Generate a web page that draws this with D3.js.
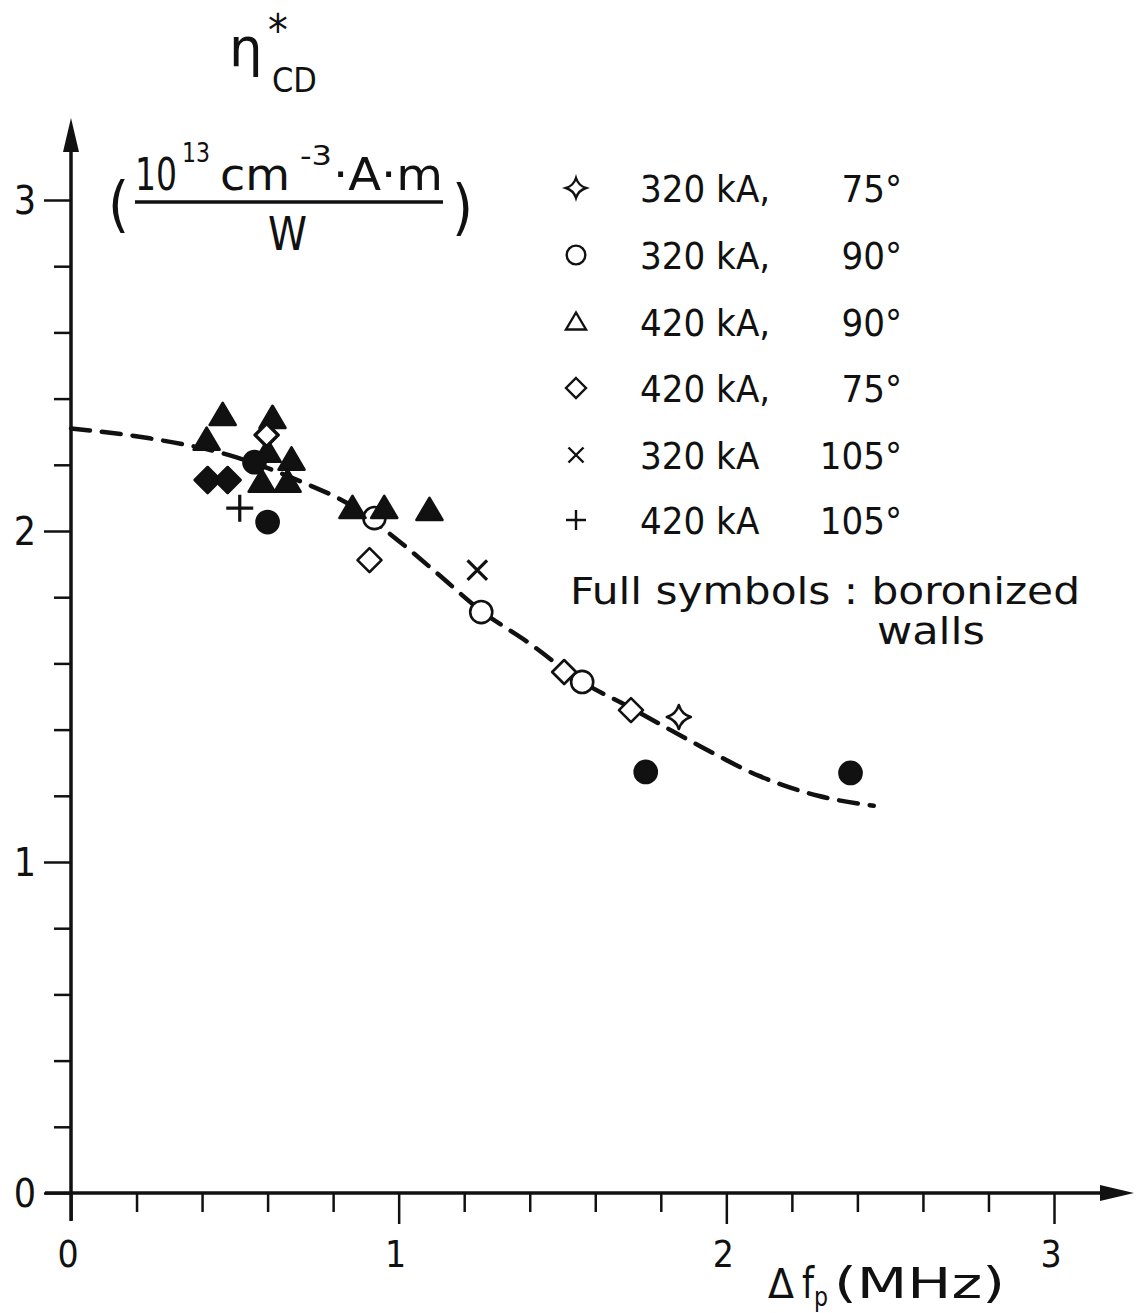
<!DOCTYPE html>
<html>
<head>
<meta charset="utf-8">
<script src="https://cdn.jsdelivr.net/npm/d3@7"></script>
<style>
  body { margin: 0; background: #fff; }
  svg { display: block; }
  text { font-family: "DejaVu Sans Condensed", "DejaVu Sans", sans-serif; fill: #111; }
</style>
</head>
<body>
<svg id="chart"></svg>
<script>
// values (x: delta f_p in MHz, y: eta*_CD)
const fitX = [0, 0.24, 0.48, 0.70, 0.85, 1.00, 1.12, 1.25, 1.40, 1.55, 1.70, 1.92, 2.10, 2.28, 2.45];
const fitY = [2.31, 2.28, 2.23, 2.15, 2.08, 1.97, 1.87, 1.76, 1.66, 1.55, 1.47, 1.35, 1.26, 1.20, 1.17];

const triFull = [[0.463, 2.35], [0.414, 2.275], [0.615, 2.341], [0.600, 2.239], [0.673, 2.215],
                 [0.582, 2.148], [0.661, 2.148], [0.859, 2.069], [0.956, 2.069], [1.094, 2.063]];
const diamondFull = [[0.417, 2.154], [0.478, 2.154]];
const circleFull = [[0.560, 2.208], [0.600, 2.027], [1.754, 1.272], [2.379, 1.269]];
const diamondOpen = [[0.597, 2.290], [0.911, 1.912], [1.505, 1.574], [1.709, 1.459]];
const circleOpen = [[0.926, 2.039], [1.252, 1.755], [1.560, 1.544]];
const crossPts = [[1.240, 1.882]];
const plusPts = [[0.515, 2.069]];
const starPts = [[1.855, 1.438]];

const legendShape = ["star", "circle", "triangle", "diamond", "times", "plus"];
const legendCurrent = ["320 kA,", "320 kA,", "420 kA,", "420 kA,", "320 kA", "420 kA"];
const legendAngle = ["75°", "90°", "90°", "75°", "105°", "105°"];

const xTicks = d3.range(0, 3.01, 0.2).map(d => +d.toFixed(1));
const yTicks = d3.range(0, 3.01, 0.2).map(d => +d.toFixed(1));
const labelTicks = [0, 1, 2, 3];

const W = 1138, H = 1313;
const svg = d3.select("#chart").attr("width", W).attr("height", H);

const x = d3.scaleLinear().domain([0, 3]).range([71, 1054]);
const y = d3.scaleLinear().domain([0, 3]).range([1193, 200]);

// shape paths centred on 0,0
function shapePath(kind, s) {
  const p = d3.path();
  if (kind === "triangle") {
    p.moveTo(0, -s * 0.95); p.lineTo(s * 1.0, s * 0.75); p.lineTo(-s * 1.0, s * 0.75); p.closePath();
  } else if (kind === "circle") {
    p.arc(0, 0, s * 0.85, 0, 2 * Math.PI);
  } else if (kind === "diamond") {
    p.moveTo(0, -s); p.lineTo(s, 0); p.lineTo(0, s); p.lineTo(-s, 0); p.closePath();
  } else if (kind === "times") {
    const a = s * 0.75;
    p.moveTo(-a, -a); p.lineTo(a, a); p.moveTo(a, -a); p.lineTo(-a, a);
  } else if (kind === "plus") {
    p.moveTo(-s, 0); p.lineTo(s, 0); p.moveTo(0, -s); p.lineTo(0, s);
  } else if (kind === "star") {
    // four pointed star with curved inner corners
    const a = s, b = s * 0.24;
    p.moveTo(0, -a);
    p.quadraticCurveTo(b, -b, a, 0);
    p.quadraticCurveTo(b, b, 0, a);
    p.quadraticCurveTo(-b, b, -a, 0);
    p.quadraticCurveTo(-b, -b, 0, -a);
    p.closePath();
  }
  return p.toString();
}

function drawPoints(data, kind, filled, s) {
  svg.append("g").selectAll("path")
    .data(data)
    .enter().append("path")
    .attr("transform", d => `translate(${x(d[0])},${y(d[1])})`)
    .attr("d", shapePath(kind, s))
    .attr("fill", filled ? "#111" : "#fff")
    .attr("stroke", "#111")
    .attr("stroke-width", kind === "times" || kind === "plus" ? 3.2 : 2.6)
    .attr("stroke-linejoin", "round");
}

// axes
const xAxis = svg.append("g").attr("transform", `translate(0,${y(0)})`)
  .call(d3.axisBottom(x).tickValues(xTicks).tickFormat("").tickSizeOuter(0));
xAxis.select(".domain").remove();
xAxis.selectAll(".tick line")
  .attr("stroke", "#111").attr("stroke-width", 2.5)
  .attr("y2", d => Number.isInteger(d) ? (d === 0 ? 27 : 31) : 19);

const yAxis = svg.append("g").attr("transform", `translate(${x(0)},0)`)
  .call(d3.axisLeft(y).tickValues(yTicks).tickFormat("").tickSizeOuter(0));
yAxis.select(".domain").remove();
yAxis.selectAll(".tick line")
  .attr("stroke", "#111").attr("stroke-width", 2.5)
  .attr("x2", d => Number.isInteger(d) ? -27 : -17);

// main axis lines with arrows
svg.append("line").attr("x1", 45).attr("x2", 1110).attr("y1", y(0)).attr("y2", y(0))
  .attr("stroke", "#111").attr("stroke-width", 3.5);
svg.append("line").attr("x1", x(0)).attr("x2", x(0)).attr("y1", 1221).attr("y2", 140)
  .attr("stroke", "#111").attr("stroke-width", 3.5);
svg.append("path").attr("d", `M1134,${y(0)} L1100,${y(0) - 8} L1100,${y(0) + 8} Z`).attr("fill", "#111");
svg.append("path").attr("d", `M${x(0)},118 L${x(0) - 8},152 L${x(0) + 8},152 Z`).attr("fill", "#111");

// tick labels
labelTicks.forEach(v => {
  svg.append("text").attr("x", x(v) - 3).attr("y", 1267)
    .attr("text-anchor", "middle").style("font-size", "37px").text(v);
  svg.append("text").attr("x", 36).attr("y", y(v) + 14)
    .attr("text-anchor", "end").style("font-size", "39px").text(v);
});

// fitted dashed curve
const line = d3.line().x(d => x(d[0])).y(d => y(d[1])).curve(d3.curveMonotoneX);
svg.append("path")
  .datum(fitX.map((v, i) => [v, fitY[i]]))
  .attr("d", line)
  .attr("fill", "none").attr("stroke", "#111")
  .attr("stroke-width", 4.5).attr("stroke-dasharray", "19,12")
  .attr("stroke-linecap", "round");

// data points
drawPoints(circleOpen, "circle", false, 13);
drawPoints(diamondOpen, "diamond", false, 12);
drawPoints(crossPts, "times", false, 13);
drawPoints(plusPts, "plus", false, 13.5);
drawPoints(starPts, "star", false, 12);
drawPoints(triFull, "triangle", true, 13);
drawPoints(diamondFull, "diamond", true, 13);
drawPoints(circleFull, "circle", true, 13);
drawPoints([diamondOpen[0]], "diamond", false, 11);

// y label: eta*_CD
svg.append("text").attr("x", 229).attr("y", 66).style("font-size", "53px")
  .style("font-family", "DejaVu Sans").text("η");
svg.append("text").attr("x", 268).attr("y", 46).style("font-size", "44px").text("*");
svg.append("text").attr("x", 272).attr("y", 92).style("font-size", "34px").text("CD");

// units, numerator pieces squeezed to the figure's narrow lettering
function piece(txt, x0, y0, size, len) {
  const t = svg.append("text").attr("x", x0).attr("y", y0).style("font-size", size + "px").text(txt);
  if (len) t.attr("textLength", len).attr("lengthAdjust", "spacingAndGlyphs");
  return t;
}
piece("(", 108, 225, 60);
piece(")", 452, 228, 60);
piece("10", 135, 190, 44, 42);
piece("13", 182, 162, 27, 28);
piece("cm", 220, 190, 44, 70);
piece("-3", 300, 165, 27, 32);
piece("·A·m", 333, 190, 44, 110);
svg.append("line").attr("x1", 135).attr("x2", 443).attr("y1", 202).attr("y2", 202)
  .attr("stroke", "#111").attr("stroke-width", 3.5);
piece("W", 268, 250, 46, 39);

// x label
piece("Δ", 768, 1298, 40, 26);
piece("f", 802, 1298, 42, 12);
piece("p", 814, 1306, 26, 14);
piece("(MHz)", 834, 1298, 42, 171);

// legend
const legendY = [188, 255, 322, 388, 455, 520];
legendShape.forEach((k, i) => {
  svg.append("path")
    .attr("transform", `translate(576,${legendY[i]})`)
    .attr("d", shapePath(k, k === "circle" ? 11 : 10))
    .attr("fill", "#fff").attr("stroke", "#111").attr("stroke-width", 2.4);
  svg.append("text").attr("x", 640).attr("y", legendY[i] + 14)
    .style("font-size", "38px").text(legendCurrent[i]);
  svg.append("text").attr("x", 902).attr("y", legendY[i] + 14)
    .attr("text-anchor", "end").style("font-size", "38px").text(legendAngle[i]);
});
piece("Full symbols : boronized", 570, 604, 38, 510);
piece("walls", 877, 644, 38, 108);
</script>
</body>
</html>
